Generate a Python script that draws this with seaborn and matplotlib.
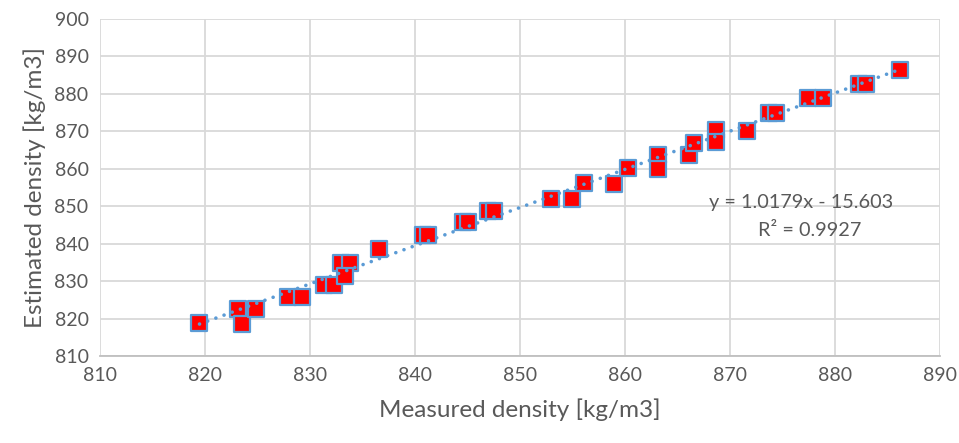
import numpy as np
import pandas as pd
import matplotlib
matplotlib.use("Agg")
import matplotlib.pyplot as plt
import seaborn as sns

measured = [819.5, 823.2, 823.5, 824.9, 827.9, 829.3, 831.4, 832.3, 833.0, 833.8,
            833.4, 836.6, 840.8, 841.3, 844.6, 845.1, 847.0, 847.5, 853.0, 855.0,
            856.1, 859.0, 860.3, 863.2, 863.2, 866.1, 866.6, 868.7, 868.7, 871.6,
            873.7, 874.4, 877.4, 878.9, 882.3, 883.0, 886.2]
estimated = [818.8, 822.5, 818.5, 822.5, 825.7, 825.7, 829.0, 829.0, 834.8, 834.8,
             831.3, 838.5, 842.3, 842.3, 845.7, 845.7, 848.7, 848.7, 851.9, 851.9,
             856.1, 855.9, 860.1, 863.6, 859.9, 863.6, 866.8, 870.3, 867.1, 870.0,
             874.8, 874.8, 878.8, 878.8, 882.5, 882.5, 886.3]
slope, intercept = 1.0179, -15.603
r2 = 0.9927

df = pd.DataFrame({"measured": measured, "estimated": estimated})

sns.set_theme(style="white")
plt.rcParams['font.family'] = ['Lato', 'DejaVu Sans']

fig = plt.figure(figsize=(9.59, 4.43), dpi=100)
ax = fig.add_axes([0.104, 0.196, 0.876, 0.762])

sns.scatterplot(data=df, x="measured", y="estimated", marker="s", s=125,
                color="#FF0000", edgecolor="#5B9BD5", linewidth=1.6, ax=ax, zorder=3)

# trendline from the fitted equation shown on the chart
xl = np.array([min(measured), max(measured)])
ax.plot(xl, slope * xl + intercept, linestyle=(0, (0.01, 2.4)), color="#5B9BD5",
        linewidth=2.6, dash_capstyle="round", zorder=4)

ax.set_xlim(810, 890)
ax.set_ylim(810, 900)
ax.set_xticks(range(810, 891, 10))
ax.set_yticks(range(810, 901, 10))
ax.grid(True, color="#D9D9D9", linewidth=1.3)
ax.set_axisbelow(True)
for s in ["top", "right", "left"]:
    ax.spines[s].set_visible(False)
ax.spines["bottom"].set_color("#BFBFBF")
ax.spines["bottom"].set_linewidth(1.3)
ax.tick_params(axis="both", length=0, labelsize=14, labelcolor="#595959", pad=8)

ax.set_xlabel("Measured density [kg/m3]", fontsize=17.5, color="#595959", labelpad=10)
ax.set_ylabel("Estimated density [kg/m3]", fontsize=17.5, color="#595959", labelpad=6)

ax.text(876.8, 851.0, f"y = {slope}x - {abs(intercept)}", fontsize=14.3, color="#595959",
        ha="center", va="center")
ax.text(877.6, 843.4, f"R\u00b2 = {r2}", fontsize=14.3, color="#595959",
        ha="center", va="center")

fig.savefig("out.png", dpi=100)
